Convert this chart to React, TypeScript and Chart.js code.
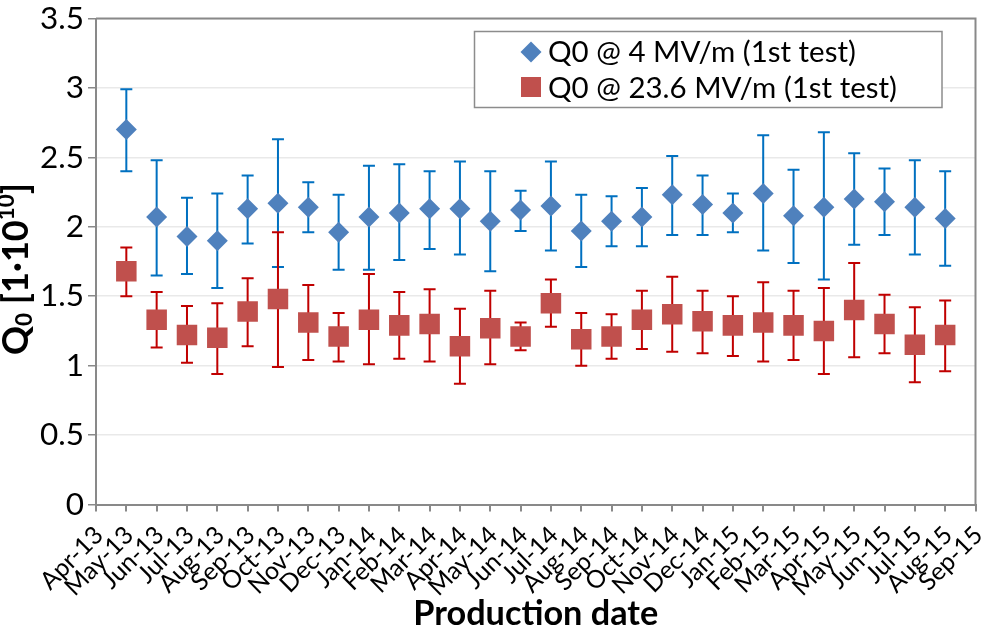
import React, { useEffect, useRef } from 'react';
import { Chart, registerables } from 'chart.js';

Chart.register(...registerables);

const categories = [
  'Apr-13', 'May-13', 'Jun-13', 'Jul-13', 'Aug-13', 'Sep-13', 'Oct-13', 'Nov-13', 'Dec-13',
  'Jan-14', 'Feb-14', 'Mar-14', 'Apr-14', 'May-14', 'Jun-14', 'Jul-14', 'Aug-14', 'Sep-14',
  'Oct-14', 'Nov-14', 'Dec-14', 'Jan-15', 'Feb-15', 'Mar-15', 'Apr-15', 'May-15', 'Jun-15',
  'Jul-15', 'Aug-15', 'Sep-15',
];

const measuredMonths = [
  'May-13', 'Jun-13', 'Jul-13', 'Aug-13', 'Sep-13', 'Oct-13', 'Nov-13', 'Dec-13',
  'Jan-14', 'Feb-14', 'Mar-14', 'Apr-14', 'May-14', 'Jun-14', 'Jul-14', 'Aug-14', 'Sep-14',
  'Oct-14', 'Nov-14', 'Dec-14', 'Jan-15', 'Feb-15', 'Mar-15', 'Apr-15', 'May-15', 'Jun-15',
  'Jul-15', 'Aug-15',
];

const q0At4 = [
  2.70, 2.07, 1.93, 1.90, 2.13, 2.17, 2.14, 1.96, 2.07, 2.10, 2.13, 2.13, 2.04, 2.12,
  2.15, 1.97, 2.04, 2.07, 2.23, 2.16, 2.10, 2.24, 2.08, 2.14, 2.20, 2.18, 2.14, 2.06,
];
const q0At4Upper = [
  2.99, 2.48, 2.21, 2.24, 2.37, 2.63, 2.32, 2.23, 2.44, 2.45, 2.40, 2.47, 2.40, 2.26,
  2.47, 2.23, 2.22, 2.28, 2.51, 2.37, 2.24, 2.66, 2.41, 2.68, 2.53, 2.42, 2.48, 2.40,
];
const q0At4Lower = [
  2.40, 1.65, 1.66, 1.56, 1.88, 1.71, 1.96, 1.69, 1.69, 1.76, 1.84, 1.80, 1.68, 1.97,
  1.83, 1.71, 1.86, 1.86, 1.94, 1.94, 1.96, 1.83, 1.74, 1.62, 1.87, 1.94, 1.80, 1.72,
];

const q0At236 = [
  1.68, 1.33, 1.22, 1.20, 1.39, 1.48, 1.31, 1.21, 1.33, 1.29, 1.30, 1.14, 1.27, 1.21,
  1.45, 1.19, 1.21, 1.33, 1.37, 1.32, 1.29, 1.31, 1.29, 1.25, 1.40, 1.30, 1.15, 1.22,
];
const q0At236Upper = [
  1.85, 1.53, 1.43, 1.45, 1.63, 1.96, 1.58, 1.38, 1.66, 1.53, 1.55, 1.41, 1.54, 1.31,
  1.62, 1.38, 1.37, 1.54, 1.64, 1.54, 1.50, 1.60, 1.54, 1.56, 1.74, 1.51, 1.42, 1.47,
];
const q0At236Lower = [
  1.50, 1.13, 1.02, 0.94, 1.14, 0.99, 1.04, 1.03, 1.01, 1.05, 1.03, 0.87, 1.01, 1.11,
  1.28, 1.00, 1.05, 1.12, 1.10, 1.09, 1.07, 1.03, 1.04, 0.94, 1.06, 1.09, 0.88, 0.96,
];

const seriesLabels = ['Q0 @ 4 MV/m (1st test)', 'Q0 @ 23.6 MV/m (1st test)'];
const yTicks = [0, 0.5, 1, 1.5, 2, 2.5, 3, 3.5];
const xTitle = 'Production date';

const FONT = "Lato, 'Open Sans', sans-serif";
const AXIS = '#898989';
const GRID = '#E9E9E9';
const BLUE = '#4F81BD';
const BLUE_ERR = '#0070C0';
const RED = '#C0504D';
const RED_ERR = '#C00000';

function fitSize(text: string, weight: string, target: number): number {
  const c = document.createElement('canvas').getContext('2d')!;
  c.font = `${weight} 100px ${FONT}`;
  return (100 * target) / c.measureText(text).width;
}

function toCategoryData(values: number[]) {
  return categories.map((c) => {
    const k = measuredMonths.indexOf(c);
    return k >= 0 ? values[k] : null;
  });
}

export default function App() {
  const ref = useRef<HTMLCanvasElement | null>(null);

  useEffect(() => {
    if (!ref.current) return;
    const yTickSize = fitSize('3.5', 'normal', 44);
    const xTickSize = fitSize('Apr-13', 'normal', 77);
    const legendSize = fitSize(seriesLabels[1], 'normal', 349);
    const xTitleSize = fitSize(xTitle, 'bold', 245);

    const errorSets = [
      { low: q0At4Lower, high: q0At4Upper, color: BLUE_ERR },
      { low: q0At236Lower, high: q0At236Upper, color: RED_ERR },
    ];

    const errorBarPlugin = {
      id: 'errorBars',
      beforeDatasetsDraw(chart: any) {
        const ctx = chart.ctx;
        const ys = chart.scales.y;
        ctx.save();
        errorSets.forEach((es, di) => {
          const meta = chart.getDatasetMeta(di);
          ctx.strokeStyle = es.color;
          ctx.lineWidth = 2;
          measuredMonths.forEach((m, k) => {
            const idx = categories.indexOf(m);
            const pt = meta.data[idx];
            if (!pt) return;
            const x = pt.x;
            const yl = ys.getPixelForValue(es.low[k]);
            const yh = ys.getPixelForValue(es.high[k]);
            ctx.beginPath();
            ctx.moveTo(x, yl);
            ctx.lineTo(x, yh);
            ctx.moveTo(x - 6, yl);
            ctx.lineTo(x + 6, yl);
            ctx.moveTo(x - 6, yh);
            ctx.lineTo(x + 6, yh);
            ctx.stroke();
          });
        });
        ctx.restore();
      },
    };

    const decorPlugin = {
      id: 'decor',
      afterDraw(chart: any) {
        const ctx = chart.ctx;
        const a = chart.chartArea;
        ctx.save();
        // plot border top and right
        ctx.strokeStyle = AXIS;
        ctx.lineWidth = 2;
        ctx.beginPath();
        ctx.moveTo(a.left, a.top);
        ctx.lineTo(a.right, a.top);
        ctx.lineTo(a.right, a.bottom);
        ctx.stroke();

        // legend
        const lx = 474.5, ly = 31.5, lw = 467.5, lh = 76;
        ctx.fillStyle = '#FFFFFF';
        ctx.fillRect(lx, ly, lw, lh);
        ctx.strokeStyle = '#8C8C8C';
        ctx.lineWidth = 1.5;
        ctx.strokeRect(lx, ly, lw, lh);
        ctx.fillStyle = BLUE;
        ctx.beginPath();
        ctx.moveTo(531, 41.5);
        ctx.lineTo(541.5, 52);
        ctx.lineTo(531, 62.5);
        ctx.lineTo(520.5, 52);
        ctx.closePath();
        ctx.fill();
        ctx.fillStyle = RED;
        ctx.fillRect(521, 77, 20, 20);
        ctx.fillStyle = '#000';
        ctx.font = `normal ${legendSize}px ${FONT}`;
        ctx.textBaseline = 'middle';
        ctx.textAlign = 'left';
        ctx.fillText(seriesLabels[0], 548, 52);
        ctx.fillText(seriesLabels[1], 548, 88);

        // x title
        ctx.font = `bold ${xTitleSize}px ${FONT}`;
        ctx.textAlign = 'center';
        ctx.textBaseline = 'alphabetic';
        ctx.fillText(xTitle, (a.left + a.right) / 2, 625);

        // y title with subscript/superscript
        const S = 34;
        const segs = [
          { t: 'Q', s: S, dy: 0 },
          { t: '0', s: S * 0.62, dy: S * 0.12 },
          { t: ' [1·10', s: S, dy: 0 },
          { t: '10', s: S * 0.62, dy: -S * 0.38 },
          { t: ']', s: S, dy: 0 },
        ];
        let total = 0;
        segs.forEach((g) => {
          ctx.font = `bold ${g.s}px ${FONT}`;
          total += ctx.measureText(g.t).width;
        });
        const scale = 172 / total;
        ctx.translate(28, 269 + 86);
        ctx.rotate(-Math.PI / 2);
        ctx.textAlign = 'left';
        let cx = 0;
        segs.forEach((g) => {
          ctx.font = `bold ${g.s * scale}px ${FONT}`;
          ctx.fillText(g.t, cx, g.dy * scale);
          cx += ctx.measureText(g.t).width;
        });
        ctx.restore();
      },
    };

    const chart = new Chart(ref.current, {
      type: 'line',
      data: {
        labels: categories,
        datasets: [
          {
            label: seriesLabels[0],
            data: toCategoryData(q0At4),
            showLine: false,
            pointStyle: 'rectRot',
            pointRadius: 10.5,
            pointBackgroundColor: BLUE,
            pointBorderColor: BLUE,
            pointBorderWidth: 0,
          },
          {
            label: seriesLabels[1],
            data: toCategoryData(q0At236),
            showLine: false,
            pointStyle: 'rect',
            pointRadius: 14.5,
            pointBackgroundColor: RED,
            pointBorderColor: RED,
            pointBorderWidth: 0,
          },
        ],
      },
      options: {
        animation: false,
        responsive: false,
        maintainAspectRatio: false,
        layout: { padding: { top: 18.5, right: 3, left: 0, bottom: 0 } },
        plugins: { legend: { display: false }, tooltip: { enabled: false } },
        scales: {
          x: {
            type: 'category',
            offset: false,
            grid: { drawOnChartArea: false, color: AXIS, tickLength: 7, lineWidth: 2 },
            border: { color: AXIS, width: 2 },
            ticks: {
              autoSkip: false,
              maxRotation: 45,
              minRotation: 45,
              padding: 9,
              labelOffset: 3,
              color: '#000',
              font: { family: FONT, size: xTickSize },
            },
            afterFit: (s: any) => {
              s.height = 129.5;
              s.paddingLeft = 0;
              s.paddingRight = 0;
            },
          },
          y: {
            min: 0,
            max: 3.5,
            afterBuildTicks: (s: any) => {
              s.ticks = yTicks.map((v) => ({ value: v }));
            },
            ticks: {
              padding: 4,
              color: '#000',
              font: { family: FONT, size: yTickSize },
              callback: (v: any) => String(v),
            },
            grid: { color: GRID, lineWidth: 1.5, tickColor: AXIS, tickLength: 8 },
            border: { color: AXIS, width: 2 },
            afterFit: (s: any) => {
              s.width = 96;
              s.paddingTop = 0;
              s.paddingBottom = 0;
            },
          },
        },
      },
      plugins: [errorBarPlugin, decorPlugin],
    });
    return () => chart.destroy();
  }, []);

  return (
    <div style={{ position: 'fixed', left: 0, top: 0, width: 990, height: 634, background: '#fff' }}>
      <canvas ref={ref} width={990} height={634} style={{ width: 990, height: 634, display: 'block' }} />
    </div>
  );
}
